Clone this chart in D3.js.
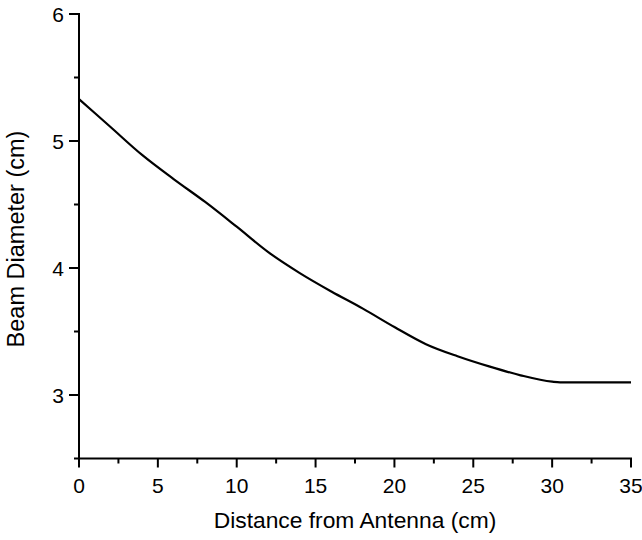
<!DOCTYPE html>
<html>
<head>
<meta charset="utf-8">
<script src="https://cdn.jsdelivr.net/npm/d3@7"></script>
<style>
html, body { margin: 0; padding: 0; background: #fff; }
svg { display: block; }
text { font-family: "Liberation Sans", Arial, sans-serif; fill: #000; }
</style>
</head>
<body>
<svg id="chart" width="642" height="540"></svg>
<script>
// Data
const distance = [0, 2, 4, 6, 8, 10, 12, 14, 16, 18, 20, 22, 24, 26, 28, 30, 30.5, 35];
const beamDiameter = [5.33, 5.11, 4.89, 4.70, 4.52, 4.325, 4.125, 3.96, 3.815, 3.68, 3.535, 3.40, 3.305, 3.225, 3.155, 3.105, 3.10, 3.10];
const xTicks = [0, 5, 10, 15, 20, 25, 30, 35];
const xMinorTicks = [2.5, 7.5, 12.5, 17.5, 22.5, 27.5, 32.5];
const yTicks = [3, 4, 5, 6];
const yMinorTicks = [2.5, 3.5, 4.5, 5.5];
const xTitle = "Distance from Antenna (cm)";
const yTitle = "Beam Diameter (cm)";

const svg = d3.select("#chart");
const x = d3.scaleLinear().domain([0, 35]).range([79, 631]);
const y = d3.scaleLinear().domain([2.5, 6]).range([458.5, 14]);

// X axis
const gx = svg.append("g").attr("transform", `translate(0,${y(2.5)})`);
gx.append("line").attr("x1", x(0) - 1).attr("x2", x(35) + 1).attr("stroke", "#000").attr("stroke-width", 2);
gx.selectAll(".maj").data(xTicks).enter().append("line")
  .attr("x1", d => x(d)).attr("x2", d => x(d)).attr("y1", 0).attr("y2", 9)
  .attr("stroke", "#000").attr("stroke-width", 2);
gx.selectAll(".min").data(xMinorTicks).enter().append("line")
  .attr("x1", d => x(d)).attr("x2", d => x(d)).attr("y1", 0).attr("y2", 5)
  .attr("stroke", "#000").attr("stroke-width", 2);
gx.selectAll(".lbl").data(xTicks).enter().append("text")
  .attr("x", d => x(d)).attr("y", 34)
  .attr("text-anchor", "middle").attr("font-size", 21)
  .text(d => d);

// Y axis
const gy = svg.append("g").attr("transform", `translate(${x(0)},0)`);
gy.append("line").attr("y1", y(6) - 1).attr("y2", y(2.5) + 1).attr("stroke", "#000").attr("stroke-width", 2);
gy.selectAll(".maj").data(yTicks).enter().append("line")
  .attr("y1", d => y(d)).attr("y2", d => y(d)).attr("x1", 0).attr("x2", -10)
  .attr("stroke", "#000").attr("stroke-width", 2);
gy.selectAll(".min").data(yMinorTicks).enter().append("line")
  .attr("y1", d => y(d)).attr("y2", d => y(d)).attr("x1", 0).attr("x2", -5)
  .attr("stroke", "#000").attr("stroke-width", 2);
gy.selectAll(".lbl").data(yTicks).enter().append("text")
  .attr("x", -15).attr("y", d => y(d) + 7.5)
  .attr("text-anchor", "end").attr("font-size", 21)
  .text(d => d);

// Titles
svg.append("text").attr("x", 355).attr("y", 528).attr("text-anchor", "middle")
  .attr("font-size", 22.8).text(xTitle);
svg.append("text").attr("transform", `translate(24,239) rotate(-90)`).attr("text-anchor", "middle")
  .attr("font-size", 23.5).text(yTitle);

// Line
const line = d3.line().x((d, i) => x(distance[i])).y(d => y(d)).curve(d3.curveMonotoneX);
svg.append("path").datum(beamDiameter).attr("d", line)
  .attr("fill", "none").attr("stroke", "#000").attr("stroke-width", 2.2);
</script>
</body>
</html>
